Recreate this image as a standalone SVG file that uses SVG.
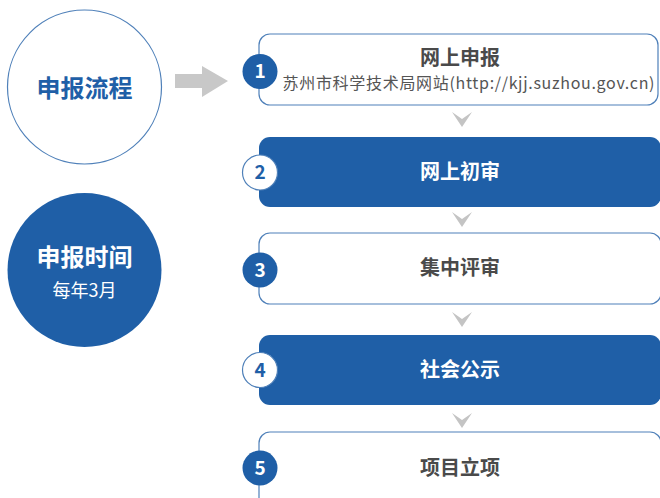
<svg xmlns="http://www.w3.org/2000/svg" width="660" height="498" viewBox="0 0 660 498">
<defs>
<style>
text{font-family:"Noto Sans CJK SC","Noto Sans",sans-serif;text-anchor:middle}
.boxw{fill:#fff;stroke:#4f80b9;stroke-width:1.2}
.boxb{fill:#1f5fa7;stroke:none}
.ncb{fill:#1f5fa7}
.ncw{fill:#fff;stroke:#4f80b9;stroke-width:1.2}
.nb{font-size:19px;font-weight:700;fill:#fff}
.nw{font-size:19px;font-weight:700;fill:#1f5fa7}
.tg{font-size:20px;font-weight:700;fill:#4a4a4a}
.tw{font-size:20px;font-weight:700;fill:#fff}
.chev{fill:#c4c4c4}
</style>
</defs>
<rect width="660" height="498" fill="#fff"/>
<g id="label-process">
<circle cx="84.5" cy="87" r="77" fill="#fff" stroke="#4f80b9" stroke-width="1.2"/>
<text x="84.5" y="96.5" style="font-size:24px;font-weight:700;fill:#1f5fa7">申报流程</text>
</g>
<g id="label-time">
<circle cx="84.5" cy="270" r="77" fill="#1f5fa7"/>
<text x="84.5" y="265.5" style="font-size:24px;font-weight:700;fill:#fff">申报时间</text>
<text x="84.5" y="297" style="font-size:18px;fill:#fff">每年3月</text>
</g>
<g id="connectors">
<polygon points="175,74 202,74 202,66 228,81 202,97 202,88 175,88" fill="#c8c8c8"/>
<polygon class="chev" points="452,112 462,119 472,112 462,127"/>
<polygon class="chev" points="452,212 462,219 472,212 462,227"/>
<polygon class="chev" points="452,312 462,319 472,312 462,327"/>
<polygon class="chev" points="452,413 462,420 472,413 462,428"/>
</g>
<g id="step1">
<rect class="boxw" x="259" y="34" width="399" height="71" rx="11"/>
<circle class="ncb" cx="260" cy="71.5" r="17.5"/>
<text class="nb" x="260" y="78">1</text>
<text class="tg" x="460" y="65">网上申报</text>
<text x="468.5" y="89" textLength="372" lengthAdjust="spacing" style="font-size:16px;fill:#555">苏州市科学技术局网站(http://kjj.suzhou.gov.cn)</text>
</g>
<g id="step2">
<rect class="boxb" x="259" y="137" width="402" height="70" rx="11"/>
<circle class="ncw" cx="260" cy="172.5" r="17.5"/>
<text class="nw" x="260" y="179">2</text>
<text class="tw" x="460" y="179">网上初审</text>
</g>
<g id="step3">
<rect class="boxw" x="259" y="233" width="402" height="71" rx="11"/>
<circle class="ncb" cx="260" cy="270" r="17.5"/>
<text class="nb" x="260" y="276.5">3</text>
<text class="tg" x="460" y="275">集中评审</text>
</g>
<g id="step4">
<rect class="boxb" x="259" y="335" width="402" height="70" rx="11"/>
<circle class="ncw" cx="260" cy="370" r="17.5"/>
<text class="nw" x="260" y="376.5">4</text>
<text class="tw" x="460" y="377">社会公示</text>
</g>
<g id="step5">
<rect class="boxw" x="259" y="432" width="402" height="80" rx="11"/>
<circle class="ncb" cx="260" cy="468" r="17.5"/>
<text class="nb" x="260" y="474.5">5</text>
<text class="tg" x="460" y="475">项目立项</text>
</g>
</svg>
